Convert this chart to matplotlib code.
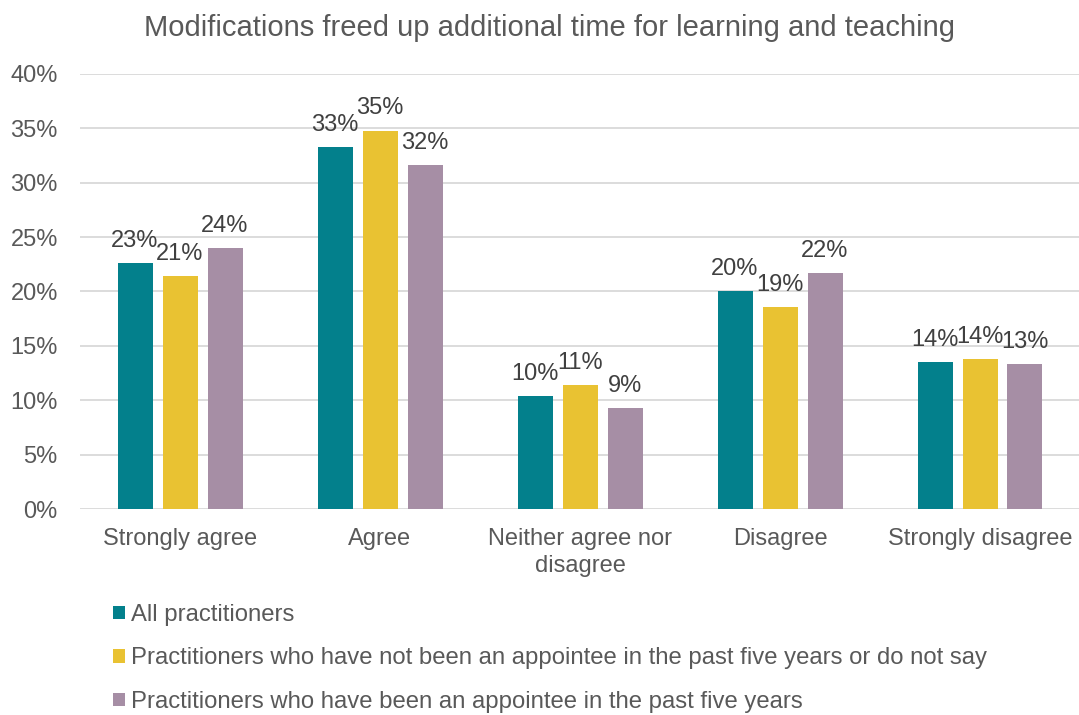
import numpy as np
import matplotlib.pyplot as plt
from matplotlib.patches import Patch

plt.rcParams['font.family'] = ['Liberation Sans', 'DejaVu Sans']

categories = ['Strongly agree', 'Agree', 'Neither agree nor\ndisagree', 'Disagree', 'Strongly disagree']
all_practitioners = [22.6, 33.3, 10.4, 20.0, 13.5]
not_appointee = [21.4, 34.8, 11.4, 18.6, 13.8]
appointee = [24.0, 31.6, 9.25, 21.7, 13.3]
series_names = ['All practitioners',
                'Practitioners who have not been an appointee in the past five years or do not say',
                'Practitioners who have been an appointee in the past five years']
colors = ['#03808C', '#E9C232', '#A68EA5']
yticks = [0, 5, 10, 15, 20, 25, 30, 35, 40]

def main():
    fig = plt.figure(figsize=(10.79, 7.15), dpi=100)
    ax = fig.add_axes([80 / 1079, 1 - 509 / 715, 1000 / 1079, 435 / 715])

    x = np.arange(len(categories))
    width = 0.175
    step = 0.225
    series = [all_practitioners, not_appointee, appointee]
    for i, (vals, col) in enumerate(zip(series, colors)):
        pos = x + (i - 1) * step
        ax.bar(pos, vals, width, color=col, zorder=3)
        for p, v in zip(pos, vals):
            ax.annotate(f'{round(v)}%', (p, v), xytext=(0, 8), textcoords='offset points',
                        ha='center', va='bottom', fontsize=17, color='#404040')

    ax.set_xlim(-0.5, 4.5)
    ax.set_ylim(0, 40)
    ax.set_yticks(yticks)
    ax.set_yticklabels([f'{t}%' for t in yticks])
    ax.set_xticks(x)
    ax.set_xticklabels(categories, linespacing=1.28)
    ax.tick_params(axis='both', length=0, labelsize=17, labelcolor='#595959')
    ax.tick_params(axis='x', pad=14)
    ax.tick_params(axis='y', pad=16)
    ax.grid(axis='y', color='#D9D9D9', linewidth=1.3, zorder=0)
    for s in ax.spines.values():
        s.set_visible(False)

    fig.suptitle('Modifications freed up additional time for learning and teaching',
                 x=0.509, y=0.98, fontsize=21, color='#595959')

    handles = [Patch(facecolor=c) for c in colors]
    fig.legend(handles, series_names, loc='upper left', bbox_to_anchor=(0.1047, 0.1555),
               frameon=False, fontsize=17.2, labelcolor='#595959', handlelength=0.5,
               handleheight=0.5, handletextpad=0.25, labelspacing=0.9, borderpad=0,
               borderaxespad=0)

    fig.savefig('out.png', dpi=100)

if __name__ == "__main__":
    main()
